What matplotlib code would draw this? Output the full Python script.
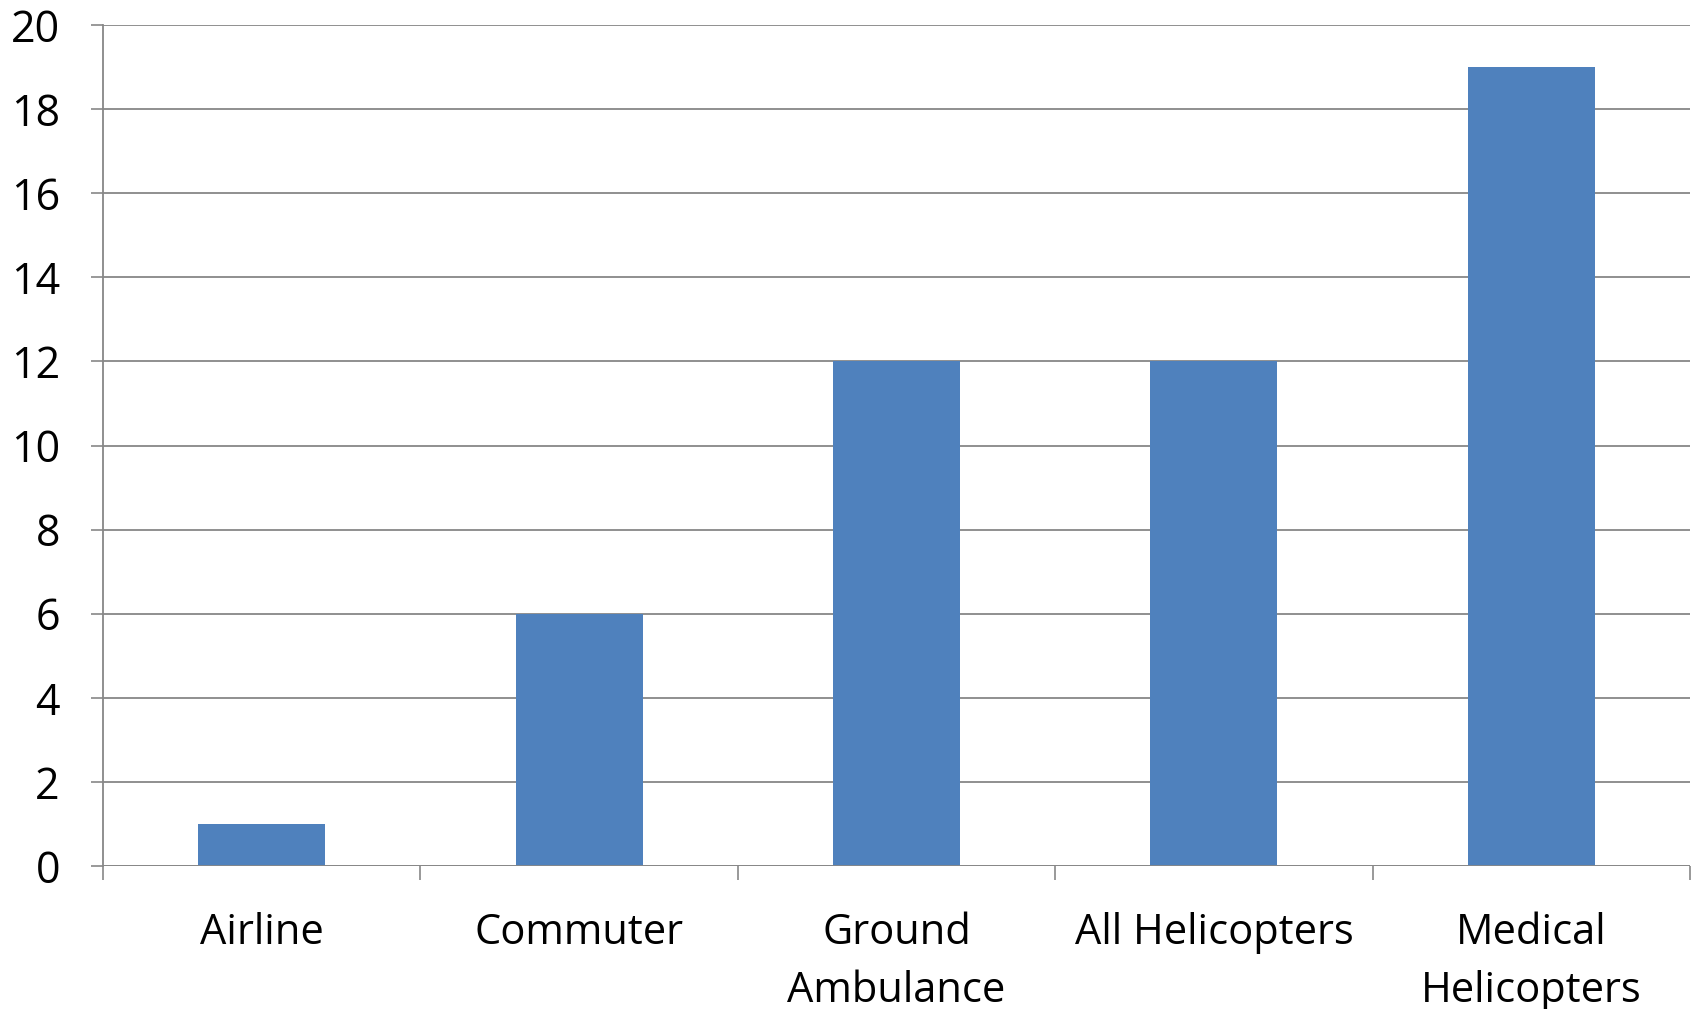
import matplotlib
matplotlib.use("Agg")
import matplotlib.pyplot as plt
import numpy as np

categories = ["Airline", "Commuter", "Ground\nAmbulance", "All Helicopters", "Medical\nHelicopters"]
values = [1, 6, 12, 12, 19]
yticks = [0, 2, 4, 6, 8, 10, 12, 14, 16, 18, 20]

plt.rcParams['font.family'] = ['Open Sans', 'DejaVu Sans']

fig = plt.figure(figsize=(16.96, 10.09), dpi=100)
ax = fig.add_axes([0.0607, 0.1417, 0.9358, 0.8335])

x = np.arange(len(categories))
ax.bar(x, values, width=0.4, color="#4F81BD", zorder=3)

ax.set_xlim(-0.5, len(categories) - 0.5)
ax.set_ylim(0, 20)
ax.set_yticks(yticks)
ax.set_yticklabels([str(v) for v in yticks])

ax.set_xticks(np.arange(-0.5, len(categories), 1.0))
ax.set_xticklabels([])
ax.set_xticks(x, minor=True)
ax.set_xticklabels(categories, minor=True, fontsize=30, linespacing=1.5, va="top")
ax.tick_params(axis="x", which="minor", length=0, pad=33)
ax.tick_params(axis="x", which="major", length=10, width=1.2, color="#878787", direction="out")
ax.tick_params(axis="y", length=9, width=1.2, color="#878787", labelsize=31, pad=22)

ax.grid(axis="y", color="#878787", linewidth=1.3, zorder=0)
for s in ["top", "right"]:
    ax.spines[s].set_visible(False)
for s in ["left", "bottom"]:
    ax.spines[s].set_color("#878787")
    ax.spines[s].set_linewidth(1.3)
ax.spines["bottom"].set_visible(False)
ax.axhline(0, color="#878787", linewidth=1.3, zorder=4)

fig.savefig("out.png", dpi=100)
